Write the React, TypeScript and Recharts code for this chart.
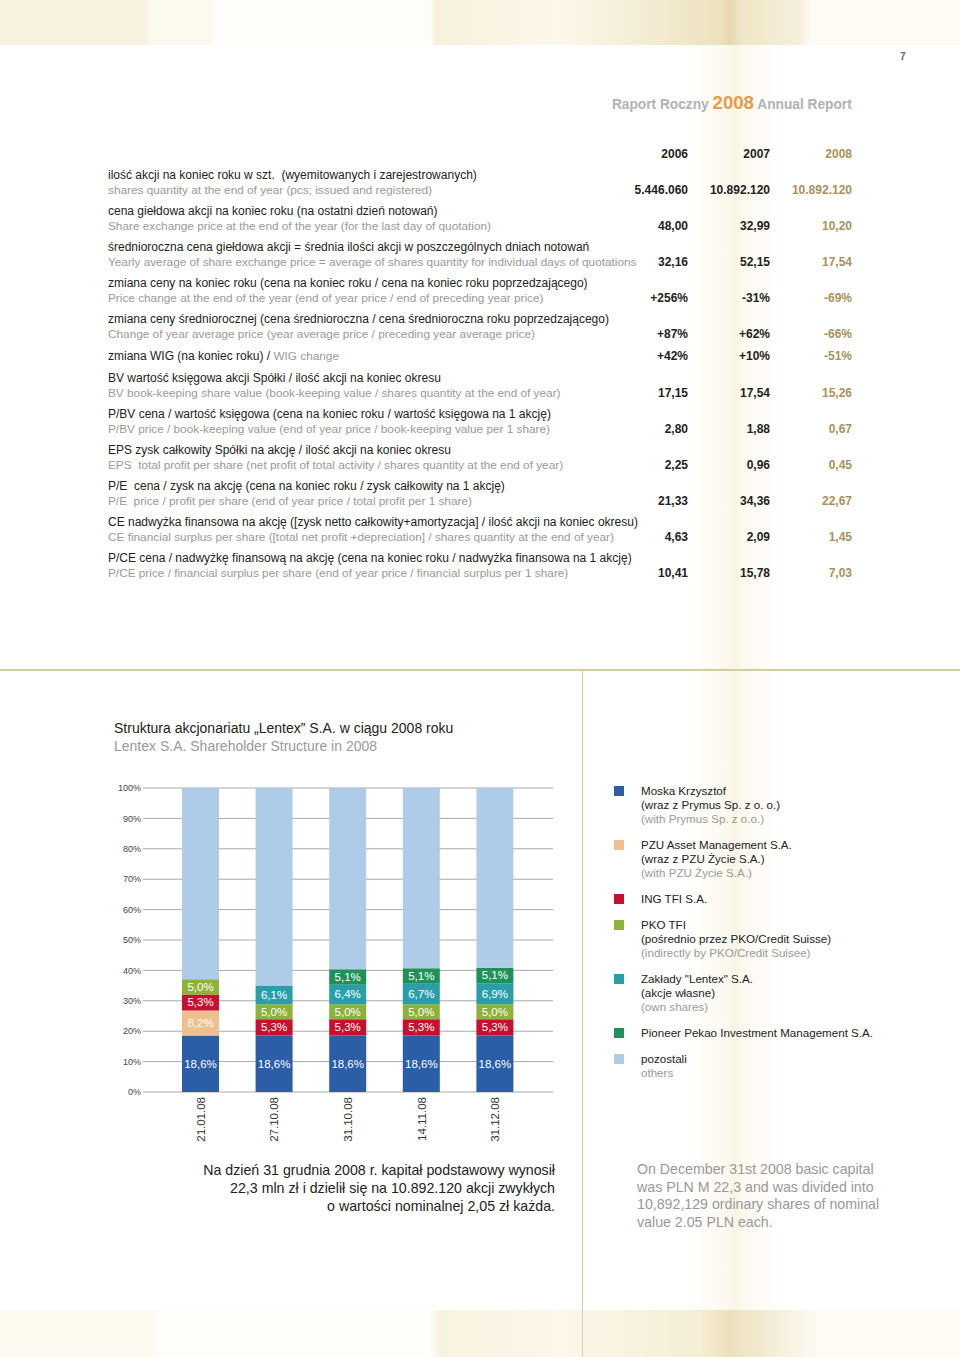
import React from 'react';
import { BarChart, Bar, XAxis, YAxis, CartesianGrid, LabelList } from 'recharts';

// shareholder structure, % of shares
const dates = ['21.01.08', '27.10.08', '31.10.08', '14.11.08', '31.12.08'];
const moska = [18.6, 18.6, 18.6, 18.6, 18.6];
const pzu = [8.2, 0, 0, 0, 0];
const ing = [5.3, 5.3, 5.3, 5.3, 5.3];
const pko = [5.0, 5.0, 5.0, 5.0, 5.0];
const lentex = [0, 6.1, 6.4, 6.7, 6.9];
const pioneer = [0, 0, 5.1, 5.1, 5.1];
const others = [62.9, 65.0, 59.6, 59.3, 59.1];
const yTicks = [0, 10, 20, 30, 40, 50, 60, 70, 80, 90, 100];

// key figures table
const years = ['2006', '2007', '2008'];
const labelsPl = [
  'ilość akcji na koniec roku w szt.  (wyemitowanych i zarejestrowanych)',
  'cena giełdowa akcji na koniec roku (na ostatni dzień notowań)',
  'średnioroczna cena giełdowa akcji = średnia ilości akcji w poszczególnych dniach notowań',
  'zmiana ceny na koniec roku (cena na koniec roku / cena na koniec roku poprzedzającego)',
  'zmiana ceny średniorocznej (cena średnioroczna / cena średnioroczna roku poprzedzającego)',
  'zmiana WIG (na koniec roku) / ',
  'BV wartość księgowa akcji Spółki / ilość akcji na koniec okresu',
  'P/BV cena / wartość księgowa (cena na koniec roku / wartość księgowa na 1 akcję)',
  'EPS zysk całkowity Spółki na akcję / ilość akcji na koniec okresu',
  'P/E  cena / zysk na akcję (cena na koniec roku / zysk całkowity na 1 akcję)',
  'CE nadwyżka finansowa na akcję ([zysk netto całkowity+amortyzacja] / ilość akcji na koniec okresu)',
  'P/CE cena / nadwyżkę finansową na akcję (cena na koniec roku / nadwyżka finansowa na 1 akcję)',
];
const labelsEn = [
  'shares quantity at the end of year (pcs; issued and registered)',
  'Share exchange price at the end of the year (for the last day of quotation)',
  'Yearly average of share exchange price = average of shares quantity for individual days of quotations',
  'Price change at the end of the year (end of year price / end of preceding year price)',
  'Change of year average price (year average price / preceding year average price)',
  'WIG change',
  'BV book-keeping share value (book-keeping value / shares quantity at the end of year)',
  'P/BV price / book-keeping value (end of year price / book-keeping value per 1 share)',
  'EPS  total profit per share (net profit of total activity / shares quantity at the end of year)',
  'P/E  price / profit per share (end of year price / total profit per 1 share)',
  'CE financial surplus per share ([total net profit +depreciation] / shares quantity at the end of year)',
  'P/CE price / financial surplus per share (end of year price / financial surplus per 1 share)',
];
const values2006 = ['5.446.060', '48,00', '32,16', '+256%', '+87%', '+42%', '17,15', '2,80', '2,25', '21,33', '4,63', '10,41'];
const values2007 = ['10.892.120', '32,99', '52,15', '-31%', '+62%', '+10%', '17,54', '1,88', '0,96', '34,36', '2,09', '15,78'];
const values2008 = ['10.892.120', '10,20', '17,54', '-69%', '-66%', '-51%', '15,26', '0,67', '0,45', '22,67', '1,45', '7,03'];

const series = [
  { key: 'moska', values: moska, color: '#2b5ea7', lines: ['Moska Krzysztof', '(wraz z Prymus Sp. z o. o.)', '(with Prymus Sp. z o.o.)'] },
  { key: 'pzu', values: pzu, color: '#efc08f', lines: ['PZU Asset Management S.A.', '(wraz z PZU Życie S.A.)', '(with PZU Życie S.A.)'] },
  { key: 'ing', values: ing, color: '#c70f2f', lines: ['ING TFI S.A.'] },
  { key: 'pko', values: pko, color: '#8cb23a', lines: ['PKO TFI', '(pośrednio przez PKO/Credit Suisse)', '(indirectly by PKO/Credit Suisee)'] },
  { key: 'lentex', values: lentex, color: '#2a9fa9', lines: ['Zakłady "Lentex" S.A.', '(akcje własne)', '(own shares)'] },
  { key: 'pioneer', values: pioneer, color: '#21915a', lines: ['Pioneer Pekao Investment Management S.A.'] },
  { key: 'others', values: others, color: '#aecbe8', lines: ['pozostali', 'others'] },
];

const data = dates.map((d, i) => {
  const row: Record<string, string | number> = { date: d };
  series.forEach(s => { row[s.key] = s.values[i]; });
  return row;
});

const FONT = '"Liberation Sans", Arial, Helvetica, sans-serif';
const GOLD = '#a8915a';

function SegmentLabel(props: any) {
  const { x, y, width, height, value } = props;
  if (!value) return null;
  return (
    <text x={x + width / 2} y={y + height / 2} textAnchor="middle" dominantBaseline="central"
      fill="#fff" fontSize={11.5} fontFamily={FONT}>
      {String(value.toFixed(1)).replace('.', ',')}%
    </text>
  );
}

function DateTick(props: any) {
  const { x, y, payload } = props;
  return (
    <text x={x} y={y} transform={`rotate(-90, ${x}, ${y})`} textAnchor="end" dominantBaseline="central"
      fill="#333" fontSize={11.5} fontFamily={FONT}>
      {payload.value}
    </text>
  );
}

function Line({ top, left, children, color = '#222', size = 12, bold = false, right }: any) {
  const style: React.CSSProperties = {
    position: 'absolute', top: top - 7, lineHeight: '14px', fontSize: size, color,
    fontWeight: bold ? 700 : 400, whiteSpace: 'pre',
  };
  if (right !== undefined) {
    style.left = right - 200; style.width = 200; style.textAlign = 'right';
  } else {
    style.left = left;
  }
  return <div style={style}>{children}</div>;
}

function rowY(i: number) {
  // two-line blocks, WIG row is a single line
  if (i < 5) return 175 + 36 * i;
  if (i === 5) return 341;
  return 378 + 36 * (i - 6);
}

export default function App() {
  const cols = [688, 770, 852];
  const cellValues = [values2006, values2007, values2008];
  return (
    <div style={{ position: 'absolute', left: 0, top: 0, width: 960, height: 1357, background: '#fff', fontFamily: FONT, overflow: 'hidden' }}>
      {/* decorative stripes */}
      <div style={{ position: 'absolute', left: 0, top: 0, width: 960, height: 45,
        background: 'linear-gradient(90deg, #f8f2e0 0px, #f8f2e0 147px, #fcf9ef 150px, #fcf9ef 210px, #fefdf9 215px, #fefdf9 430px, #f7f0dc 435px, #fbf7ea 560px, #f3ead0 660px, #ede2bf 720px, #e6d8ae 730px, #efe5c6 740px, #f6efdc 800px, #fdfbf4 810px, #fdfbf4 960px)' }} />
      <div style={{ position: 'absolute', left: 690, top: 45, width: 90, height: 1265,
        background: 'linear-gradient(90deg, rgba(250,245,228,0) 0%, rgba(250,245,228,0.6) 40%, rgba(248,242,222,0.8) 50%, rgba(250,245,228,0.6) 60%, rgba(250,245,228,0) 100%)' }} />
      <div style={{ position: 'absolute', left: 0, top: 1310, width: 960, height: 47,
        background: 'linear-gradient(90deg, #fcf9ef 0px, #fcf9ef 150px, #fefdf9 160px, #fefdf9 430px, #f8f2e0 440px, #fbf7ea 560px, #f5edd4 700px, #ece0bc 730px, #f6efdc 780px, #fdfbf4 820px, #fdfbf4 960px)' }} />

      {/* header */}
      <div style={{ position: 'absolute', left: 900, top: 51, fontSize: 10, fontWeight: 700, color: '#666' }}>7</div>
      <div style={{ position: 'absolute', right: 108, top: 92, fontSize: 14, color: '#b2b2b2', whiteSpace: 'pre', fontWeight: 700,
        transform: 'scaleX(0.98)', transformOrigin: 'right center' }}>
        Raport Roczny <span style={{ fontSize: 19, color: '#e8994a' }}>2008</span> Annual Report
      </div>

      {/* table */}
      {years.map((y, k) => (
        <Line key={y} top={154} right={cols[k]} bold color={k === 2 ? GOLD : '#222'}>{y}</Line>
      ))}
      {labelsPl.map((pl, i) => {
        const y = rowY(i);
        const single = i === 5;
        return (
          <React.Fragment key={i}>
            {single ? (
              <Line top={356} left={108}>{pl}<span style={{ color: '#999', fontSize: 11.8 }}>{labelsEn[i]}</span></Line>
            ) : (
              <>
                <Line top={y} left={108}>{pl}</Line>
                <Line top={y + 15} left={108} color="#999" size={11.8}>{labelsEn[i]}</Line>
              </>
            )}
            {cellValues.map((vals, k) => (
              <Line key={k} top={single ? 356 : y + 15} right={cols[k]} bold color={k === 2 ? GOLD : '#222'}>{vals[i]}</Line>
            ))}
          </React.Fragment>
        );
      })}

      {/* rules */}
      <div style={{ position: 'absolute', left: 0, top: 669, width: 960, height: 2, background: '#d8cb9f' }} />
      <div style={{ position: 'absolute', left: 582, top: 671, width: 1, height: 686, background: '#d8cb9f' }} />

      {/* chart title */}
      <div style={{ position: 'absolute', left: 114, top: 719, fontSize: 14, lineHeight: '18px', color: '#222' }}>
        Struktura akcjonariatu „Lentex” S.A. w ciągu 2008 roku
      </div>
      <div style={{ position: 'absolute', left: 114, top: 737, fontSize: 14, lineHeight: '18px', color: '#999' }}>
        Lentex S.A. Shareholder Structure in 2008
      </div>

      <div style={{ position: 'absolute', left: 100, top: 770 }}>
        <BarChart width={470} height={390} data={data} margin={{ top: 18, right: 17, bottom: 8, left: 0 }} barSize={37}>
          <CartesianGrid vertical={false} stroke="#a9a9a9" strokeWidth={1} />
          <XAxis dataKey="date" axisLine={false} tickLine={false} tickSize={0} tickMargin={5}
            padding={{ left: 21, right: 21 }} height={60} interval={0} tick={<DateTick />} />
          <YAxis domain={[0, 100]} ticks={yTicks} width={43} axisLine={false} tickLine={false}
            tickSize={0} tickMargin={2} tickFormatter={(v: number) => `${v}%`}
            tick={{ fill: '#444', fontSize: 9, fontFamily: FONT }} />
          {series.map(s => (
            <Bar key={s.key} dataKey={s.key} stackId="a" fill={s.color} isAnimationActive={false}>
              {s.key !== 'others' && <LabelList dataKey={s.key} content={<SegmentLabel />} />}
            </Bar>
          ))}
        </BarChart>
      </div>

      {/* legend */}
      <div style={{ position: 'absolute', left: 614, top: 784 }}>
        {series.map(s => (
          <div key={s.key} style={{ position: 'relative', marginBottom: 12, paddingLeft: 27 }}>
            <div style={{ position: 'absolute', left: 0, top: 2, width: 10, height: 10, background: s.color }} />
            {s.lines.map((t, j) => {
              const gray = j > 0 && j === s.lines.length - 1 && (s.lines.length === 3 || s.key === 'others');
              return (
                <div key={j} style={{ fontSize: 11.6, lineHeight: '14px', color: gray ? '#999' : '#222', whiteSpace: 'pre' }}>{t}</div>
              );
            })}
          </div>
        ))}
      </div>

      {/* notes */}
      <div style={{ position: 'absolute', left: 105, width: 450, top: 1161, fontSize: 14.2, lineHeight: '18px', color: '#222', textAlign: 'right' }}>
        Na dzień 31 grudnia 2008 r. kapitał podstawowy wynosił<br />
        22,3 mln zł i dzielił się na 10.892.120 akcji zwykłych<br />
        o wartości nominalnej 2,05 zł każda.
      </div>
      <div style={{ position: 'absolute', left: 637, top: 1161, fontSize: 14.2, lineHeight: '17.7px', color: '#999' }}>
        On December 31st 2008 basic capital<br />
        was PLN M 22,3 and was divided into<br />
        10,892,129 ordinary shares of nominal<br />
        value 2.05 PLN each.
      </div>
    </div>
  );
}
